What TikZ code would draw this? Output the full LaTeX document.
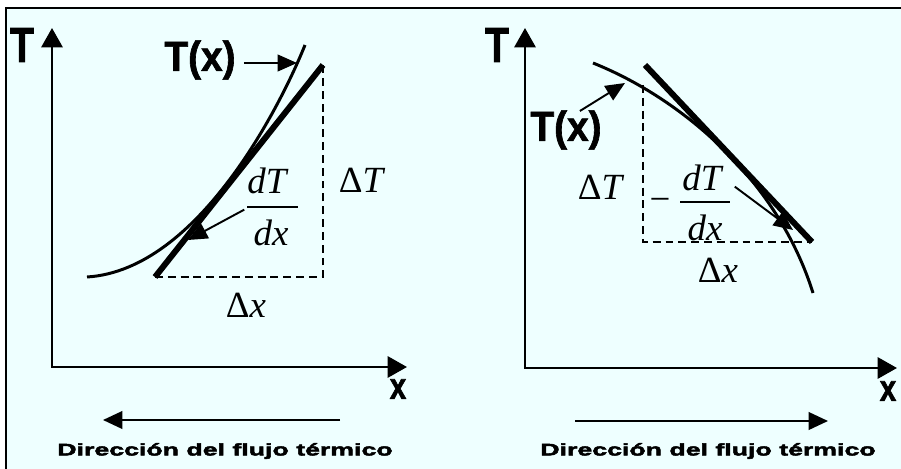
\documentclass[tikz,border=0pt]{standalone}
\usepackage{fontspec}
\usepackage{tikz}
\usetikzlibrary{arrows.meta, positioning, calc}
\setmainfont{Liberation Serif}
\newfontfamily\labfont{Liberation Sans}[FakeStretch=0.8, FakeBold=1.5]
\newfontfamily\tagfont{Liberation Sans}[FakeStretch=0.92, FakeBold=1.5]
\newfontfamily\flowfont{Liberation Sans}[FakeStretch=1.6, FakeBold=3]
\newfontfamily\symfont{Liberation Serif}
\definecolor{panelbg}{RGB}{238, 255, 255}
\definecolor{inkdark}{RGB}{0, 0, 0}

\begin{document}
\begin{tikzpicture}[
  x=0.02cm, y=-0.02cm,
  axis/.style={{Triangle[length=11pt, width=12pt]}-{Triangle[length=11pt, width=12pt]},
               line width=1.6pt, color=inkdark},
  curve/.style={line width=1.7pt, color=inkdark},
  tangent/.style={line width=3.4pt, color=inkdark},
  guide/.style={line width=1.1pt, dash pattern=on 4.5pt off 2.8pt, color=inkdark},
  arrow/.style={-{Triangle[length=11pt, width=9.5pt]}, line width=1.1pt, color=inkdark},
  flow/.style={-{Triangle[length=11pt, width=10pt]}, line width=1.2pt, color=inkdark},
  axlbl/.style={inner sep=0pt, font=\labfont\bfseries\fontsize{28}{28}\selectfont},
  varlbl/.style={inner sep=0pt, font=\labfont\bfseries\fontsize{21}{21}\selectfont},
  tag/.style={inner sep=0pt, font=\tagfont\bfseries\fontsize{24}{24}\selectfont},
  mathlbl/.style={inner sep=0pt, font=\symfont\fontsize{21}{21}\selectfont},
  flowtxt/.style={inner sep=0pt, font=\flowfont\bfseries\fontsize{9.5}{9.5}\selectfont},
]
  \useasboundingbox (0,0) rectangle (901,469);
  \fill[panelbg] (6,8) rectangle (901,469);
  \draw[line width=1.2pt, color=inkdark] (6,469) -- (6,8) -- (901,8);

  % left panel
  \coordinate (topL) at (52,28);
  \coordinate (endL) at (407,367);
  \coordinate (aL) at (155,277);
  \coordinate (bL) at (323,65);
  \node[axlbl] (TL) at (22,45) {T};
  \node[varlbl] (xL) at (398,389) {x};
  \node[tag] (TxL) at (200,60) {T(x)};
  \node[mathlbl] (dTL) at (268,181) {\textit{dT}};
  \node[mathlbl] (dxL) at (271,233) {\textit{dx}};
  \node[mathlbl] (DTL) at (362,180) {Δ\textit{T}};
  \node[mathlbl] (DxL) at (246,305) {Δ\textit{x}};
  \coordinate (TxLtip) at (297,63);
  \coordinate (slopeL) at (188,240);

  \draw[axis] (topL) |- (endL);
  \draw[guide] (aL) -| (bL);
  \draw[curve] (87,277) .. controls (200,270) and (283,100) .. (305,45);
  \draw[tangent] (aL) -- (bL);
  \draw[line width=0.9pt] (247,207) -- (298,207);
  \draw[arrow] ($(TxL.east |- TxLtip)+(8,0)$) -- (TxLtip);
  \draw[arrow] ($(dxL.north west)+(-9,-10)$) -- (slopeL);

  \coordinate (flowLs) at (340,420);
  \coordinate (flowLe) at (103,420);
  \draw[flow] (flowLs) -- (flowLe);
  \node[flowtxt] (flowLt) at (225,451) {Dirección del flujo térmico};

  % right panel
  \coordinate (topR) at (525,28);
  \coordinate (endR) at (897,368);
  \coordinate (aR) at (645,65);
  \coordinate (bR) at (812,242);
  \coordinate (cR) at (643,85);
  \node[axlbl] (TR) at (497,45) {T};
  \node[varlbl] (xR) at (888,391) {x};
  \node[tag] (TxR) at (566,130) {T(x)};
  \node[mathlbl] (minusR) at (660,205) {−};
  \node[mathlbl] (dTR) at (703,178) {\textit{dT}};
  \node[mathlbl] (dxR) at (705,228) {\textit{dx}};
  \node[mathlbl] (DTR) at (601,187) {Δ\textit{T}};
  \node[mathlbl] (DxR) at (718,270) {Δ\textit{x}};
  \coordinate (TxRtip) at (625,83);
  \coordinate (slopeR) at (793,230);

  \draw[axis] (topR) |- (endR);
  \draw[guide] (cR) |- (bR);
  \draw[curve] (593,63) .. controls (683,99) and (778,181) .. (813,293);
  \draw[tangent] (aR) -- (bR);
  \draw[line width=0.9pt] (680,202) -- (730,202);
  \draw[arrow] ($(TxR.north east)+(-22,1)$) -- (TxRtip);
  \draw[arrow] ($(dxR.north east)+(12,-28)$) -- (slopeR);

  \coordinate (flowRs) at (575,421);
  \coordinate (flowRe) at (828,421);
  \draw[flow] (flowRs) -- (flowRe);
  \node[flowtxt] (flowRt) at (708,451) {Dirección del flujo térmico};
\end{tikzpicture}
\end{document}
